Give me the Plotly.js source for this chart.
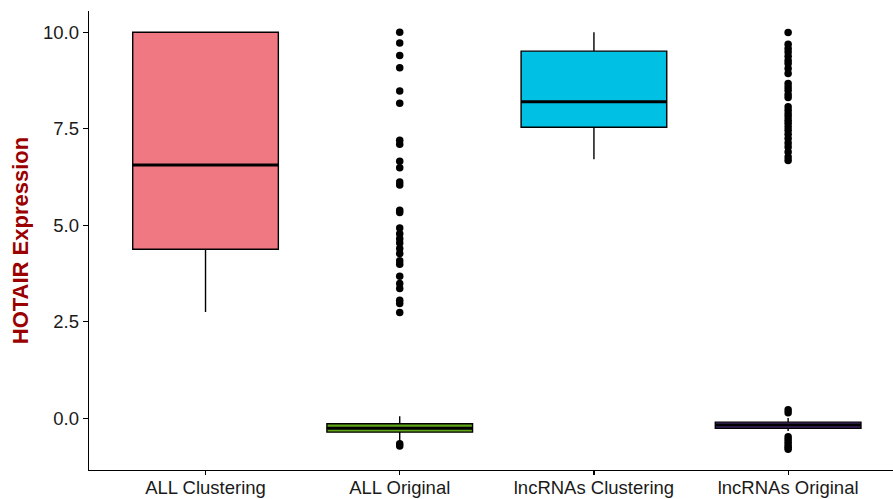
<!DOCTYPE html>
<html>
<head>
<meta charset="utf-8">
<script src="https://cdn.plot.ly/plotly-3.0.1.min.js"></script>
<style>
  html, body { margin: 0; padding: 0; background: #fff; }
  #chart { width: 893px; height: 499px; }
</style>
</head>
<body>
<div id="chart"></div>
<script>
// Groups and their box statistics
const categories = ["ALL Clustering", "ALL Original", "lncRNAs Clustering", "lncRNAs Original"];
const boxColors = ["#F07882", "#62A51A", "#00C1E3", "#55338F"];

const q1Values      = [4.38, -0.36, 7.54, -0.26];
const medianValues  = [6.56, -0.26, 8.20, -0.175];
const q3Values      = [10.0, -0.14, 9.51, -0.10];
const lowerFences   = [2.75, -0.60, 6.71, -0.33];
const upperFences   = [10.0, 0.05, 10.0, 0.01];

// Outlying observations per group
const outliersAllClustering = [];
const outliersAllOriginal = [
  10.0, 9.72, 9.40, 9.08, 8.48, 8.16, 7.20, 7.10, 6.66, 6.49, 6.12, 6.04,
  5.39, 5.33, 4.93, 4.78, 4.65, 4.54, 4.40, 4.27, 4.08, 3.99, 3.68, 3.49,
  3.36, 3.06, 2.97, 2.74, -0.66, -0.72
];
const outliersLncClustering = [];
const outliersLncOriginal = [
  9.99, 9.69, 9.58, 9.49, 9.38, 9.27, 9.19, 9.06, 8.93, 8.67, 8.58, 8.50,
  8.39, 8.31, 8.07, 7.98, 7.89, 7.81, 7.72, 7.64, 7.55, 7.46, 7.36, 7.25,
  7.13, 7.03, 6.90, 6.77, 6.68, 0.22, 0.14, -0.48, -0.55, -0.62, -0.69,
  -0.75, -0.80
];
const outlierGroups = [outliersAllClustering, outliersAllOriginal, outliersLncClustering, outliersLncOriginal];

const BOX_WIDTH = 0.75;
const traces = [];

categories.forEach((name, i) => {
  traces.push({
    type: "box",
    name: name,
    x: [i],
    q1: [q1Values[i]],
    median: [medianValues[i]],
    q3: [q3Values[i]],
    lowerfence: [lowerFences[i]],
    upperfence: [upperFences[i]],
    width: BOX_WIDTH,
    whiskerwidth: 0,
    fillcolor: boxColors[i],
    line: { color: "#000000", width: 1.4 },
    boxpoints: false,
    hoverinfo: "skip",
    showlegend: false
  });
});

// Heavier median bars across each box
categories.forEach((name, i) => {
  traces.push({
    type: "scatter",
    mode: "lines",
    x: [i - BOX_WIDTH / 2, i + BOX_WIDTH / 2],
    y: [medianValues[i], medianValues[i]],
    line: { color: "#000000", width: 3 },
    hoverinfo: "skip",
    showlegend: false
  });
});

// Outlier dots
outlierGroups.forEach((vals, i) => {
  if (!vals.length) return;
  traces.push({
    type: "scatter",
    mode: "markers",
    x: vals.map(() => i),
    y: vals,
    marker: { color: "#000000", size: 7.5 },
    hoverinfo: "skip",
    showlegend: false
  });
});

const tickFont = { family: "Liberation Sans, Arial, sans-serif", size: 18.5, color: "#1a1a1a" };

const layout = {
  width: 893,
  height: 499,
  margin: { l: 89, r: 0, t: 11, b: 29 },
  paper_bgcolor: "#ffffff",
  plot_bgcolor: "#ffffff",
  showlegend: false,
  xaxis: {
    range: [-0.6, 3.54],
    tickmode: "array",
    tickvals: categories.map((c, i) => i),
    ticktext: categories,
    showgrid: false,
    zeroline: false,
    showline: true,
    linecolor: "#000000",
    linewidth: 1.3,
    ticks: "outside",
    ticklen: 4,
    tickwidth: 1.2,
    tickcolor: "#000000",
    tickfont: tickFont,
    ticklabelstandoff: -4,
    fixedrange: true
  },
  yaxis: {
    range: [-1.34, 10.55],
    tickmode: "array",
    tickvals: [0, 2.5, 5, 7.5, 10],
    ticktext: ["0.0", "2.5", "5.0", "7.5", "10.0"],
    showgrid: false,
    zeroline: false,
    showline: true,
    linecolor: "#000000",
    linewidth: 1.3,
    ticks: "outside",
    ticklen: 5,
    tickwidth: 1.2,
    tickcolor: "#000000",
    tickfont: tickFont,
    title: {
      text: "<b>HOTAIR Expression</b>",
      font: { family: "Liberation Sans, Arial, sans-serif", size: 22, color: "#9B0000" },
      standoff: 8
    },
    fixedrange: true
  }
};

Plotly.newPlot("chart", traces, layout, { displayModeBar: false, staticPlot: true });
</script>
</body>
</html>
